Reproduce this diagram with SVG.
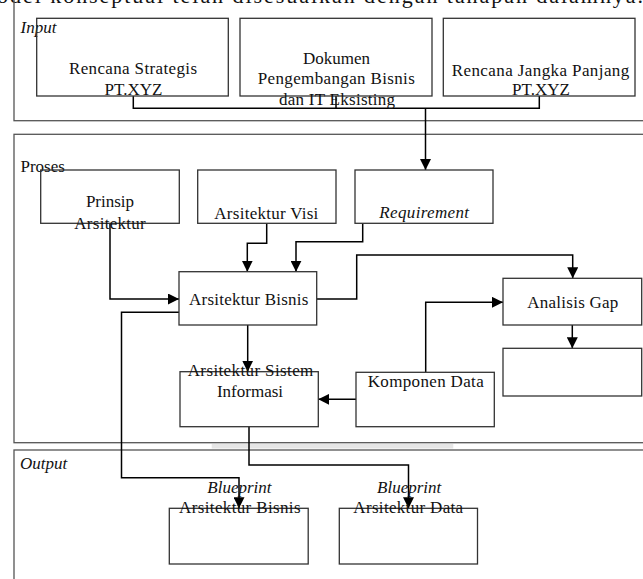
<svg xmlns="http://www.w3.org/2000/svg" width="643" height="579" viewBox="0 0 643 579">
<style>
text{font-family:"Liberation Serif","Times New Roman",serif;font-size:17px;fill:#111}
.c{text-anchor:middle}
.i{font-style:italic}
.box{fill:#fff;stroke:#333;stroke-width:1.3}
.frame{fill:none;stroke:#555;stroke-width:1.3}
.con{fill:none;stroke:#000;stroke-width:1.5}
.arr{marker-end:url(#ah)}
</style>
<defs>
<marker id="ah" markerUnits="userSpaceOnUse" markerWidth="11" markerHeight="11" refX="10" refY="5" orient="auto" viewBox="0 0 10 10">
<path d="M0,0 L10,5 L0,10 z" fill="#000"/>
</marker>
</defs>
<rect width="643" height="579" fill="#fff"/>
<text x="-22" y="3" style="font-size:22px" textLength="665" lengthAdjust="spacing">model konseptual telah disesuaikan dengan tahapan dalamnya.</text>

<!-- section frames -->
<g id="input-frame"><rect class="frame" x="14" y="-10" width="660" height="130.7"/><text class="i" x="20.5" y="32.5">Input</text></g>
<g id="proses-frame"><rect class="frame" x="14" y="134.3" width="660" height="308.4"/><text x="20.5" y="171.5">Proses</text></g>
<rect x="211.7" y="444" width="241.6" height="4.5" fill="#e6e6e6"/>
<g id="output-frame"><rect class="frame" x="14" y="450" width="660" height="150"/><text class="i" x="20" y="468.5">Output</text></g>

<!-- connectors -->
<g id="connectors">
<polyline class="con" points="133.3,96 133.3,108.3 539.3,108.3 539.3,96"/>
<line class="con" x1="336" y1="96" x2="336" y2="108.3"/>
<line class="con arr" x1="425.5" y1="108.3" x2="425.5" y2="170"/>
<polyline class="con arr" points="266.7,223.3 266.7,243.3 247.3,243.3 247.3,271.7"/>
<polyline class="con arr" points="362.7,223.3 362.7,241.7 296,241.7 296,271.7"/>
<polyline class="con arr" points="110,223.3 110,299 179,299"/>
<polyline class="con arr" points="316.7,299 356.7,299 356.7,255 572.7,255 572.7,278.3"/>
<polyline class="con arr" points="425.7,372.3 425.7,302.3 503,302.3"/>
<line class="con arr" x1="572.3" y1="325" x2="572.3" y2="348.3"/>
<line class="con arr" x1="356" y1="399.3" x2="318.3" y2="399.3"/>
<line class="con arr" x1="247.7" y1="325" x2="247.7" y2="371.7"/>
<polyline class="con arr" points="179,312.3 121.5,312.3 121.5,477.7 239,477.7 239,508.3"/>
<polyline class="con arr" points="249,426.7 249,465 408.5,465 408.5,508.3"/>
</g>

<!-- input nodes -->
<g id="renstra"><rect class="box" x="36.7" y="18.3" width="191.6" height="77.7" style="fill:none"/>
<text class="c" x="133" y="73.5" textLength="128" lengthAdjust="spacing">Rencana Strategis</text>
<text class="c" x="133.5" y="95">PT.XYZ</text></g>
<g id="dokumen"><rect class="box" x="240" y="18.3" width="192" height="77.7" style="fill:none"/>
<text class="c" x="336.5" y="64.3">Dokumen</text>
<text class="c" x="336.3" y="84" textLength="157" lengthAdjust="spacing">Pengembangan Bisnis</text>
<text class="c" x="337" y="105" textLength="116" lengthAdjust="spacing">dan IT Eksisting</text></g>
<g id="rjp"><rect class="box" x="443.3" y="18.3" width="191.7" height="77.7" style="fill:none"/>
<text class="c" x="540.5" y="75.5" textLength="177.5" lengthAdjust="spacing">Rencana Jangka Panjang</text>
<text class="c" x="541" y="95">PT.XYZ</text></g>

<!-- process nodes -->
<g id="prinsip"><rect class="box" x="40.7" y="170" width="138.6" height="53.3" style="fill:none"/>
<text class="c" x="110" y="207.3">Prinsip</text>
<text class="c" x="110" y="229.3" textLength="71.5" lengthAdjust="spacing">Arsitektur</text></g>
<g id="visi"><rect class="box" x="197.7" y="170" width="138.3" height="53.3"/>
<text class="c" x="266.3" y="218.7" textLength="104" lengthAdjust="spacing">Arsitektur Visi</text></g>
<g id="requirement"><rect class="box" x="355" y="170" width="138" height="53.3"/>
<text class="c i" x="424.2" y="217.7" textLength="89.7" lengthAdjust="spacing">Requirement</text></g>
<g id="bisnis"><rect class="box" x="179" y="271.7" width="137.7" height="53.3"/>
<text class="c" x="248.7" y="305" textLength="119.3" lengthAdjust="spacing">Arsitektur Bisnis</text></g>
<g id="gap"><rect class="box" x="503" y="278.3" width="138.7" height="46.7"/>
<text class="c" x="572.8" y="307.7" textLength="91" lengthAdjust="spacing">Analisis Gap</text></g>
<g id="kosong"><rect class="box" x="503" y="348.3" width="138.7" height="47.7"/></g>
<g id="komponen"><rect class="box" x="356" y="372.3" width="138.3" height="54.4"/>
<text class="c" x="425.7" y="387.3" textLength="116" lengthAdjust="spacing">Komponen Data</text></g>
<g id="sistem"><rect class="box" x="180" y="371.7" width="138.3" height="55" style="fill:none"/>
<text class="c" x="250.5" y="376" textLength="125.6" lengthAdjust="spacing">Arsitektur Sistem</text>
<text class="c" x="250" y="397.3">Informasi</text></g>

<!-- output nodes -->
<g id="bp-bisnis"><rect class="box" x="169.3" y="508.3" width="138.9" height="55.7" style="fill:none"/>
<text class="c i" x="239.4" y="493.3">Blueprint</text>
<text class="c" x="239.8" y="512.7" textLength="121.4" lengthAdjust="spacing">Arsitektur Bisnis</text></g>
<g id="bp-data"><rect class="box" x="339.3" y="508.3" width="138.2" height="55.7" style="fill:none"/>
<text class="c i" x="409.2" y="493.3">Blueprint</text>
<text class="c" x="408.2" y="512.7" textLength="109.8" lengthAdjust="spacing">Arsitektur Data</text></g>
</svg>
